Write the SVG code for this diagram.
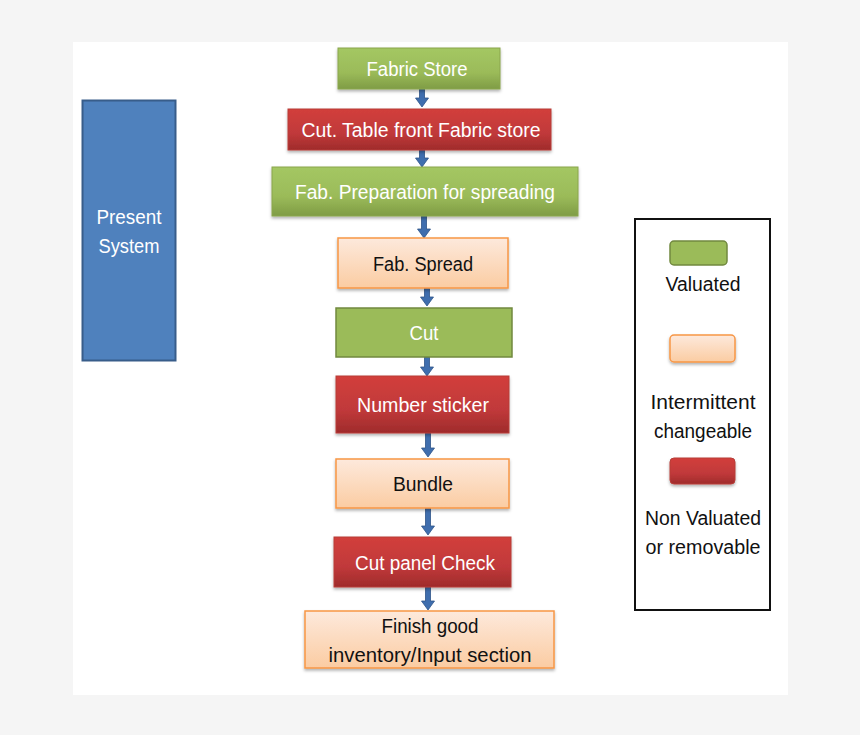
<svg xmlns="http://www.w3.org/2000/svg" width="860" height="735" viewBox="0 0 860 735">
<defs>
<linearGradient id="gG" x1="0" y1="0" x2="0" y2="1"><stop offset="0" stop-color="#a4c763"/><stop offset="0.6" stop-color="#9bbb59"/><stop offset="1" stop-color="#7f9c45"/></linearGradient>
<linearGradient id="gR" x1="0" y1="0" x2="0" y2="1"><stop offset="0" stop-color="#d23f3b"/><stop offset="0.6" stop-color="#c0393a"/><stop offset="1" stop-color="#9f2b2b"/></linearGradient>
<linearGradient id="gO" x1="0" y1="0" x2="0" y2="1"><stop offset="0" stop-color="#fde9dc"/><stop offset="1" stop-color="#fbcca2"/></linearGradient>
<filter id="sh" x="-10%" y="-10%" width="120%" height="140%"><feDropShadow dx="0" dy="2" stdDeviation="1.5" flood-color="#000" flood-opacity="0.3"/></filter>
</defs>
<style>
.t{font-family:"Liberation Sans","Open Sans",Arial,sans-serif;font-size:20px;text-anchor:middle}
.w{fill:#ffffff}
.k{fill:#111111}
.green{fill:url(#gG);stroke:#8aa64c;stroke-width:1}
.red{fill:url(#gR);stroke:#b73c38;stroke-width:1}
.orange{fill:url(#gO);stroke:#f79646;stroke-width:1.5}
.arr{fill:#3f6eae;stroke:#2f5488;stroke-width:0.8}
</style>
<rect x="0" y="0" width="860" height="735" fill="#f5f5f5"/>
<rect x="73" y="42" width="715" height="653" fill="#ffffff"/>

<g id="connectors">
<path class="arr" d="M419.5,89 h5 v9 h4 l-6.5,9 l-6.5,-9 h4 z"/>
<path class="arr" d="M419.5,150 h5 v8 h4 l-6.5,9 l-6.5,-9 h4 z"/>
<path class="arr" d="M421.5,216 h5 v13 h4 l-6.5,9 l-6.5,-9 h4 z"/>
<path class="arr" d="M424.5,288 h5 v9 h4 l-6.5,9 l-6.5,-9 h4 z"/>
<path class="arr" d="M424.5,357 h5 v10 h4 l-6.5,9 l-6.5,-9 h4 z"/>
<path class="arr" d="M425.5,433 h5 v15 h4 l-6.5,9 l-6.5,-9 h4 z"/>
<path class="arr" d="M425.5,508 h5 v18 h4 l-6.5,9 l-6.5,-9 h4 z"/>
<path class="arr" d="M425.5,587 h5 v14 h4 l-6.5,9 l-6.5,-9 h4 z"/>
</g>

<g id="fabric-store">
<rect class="green" x="338" y="48" width="162" height="41" filter="url(#sh)"/>
<text class="t w" x="417" y="76" textLength="101" lengthAdjust="spacingAndGlyphs">Fabric Store</text>
</g>
<g id="cut-table">
<rect class="red" x="288" y="109" width="263" height="41" filter="url(#sh)"/>
<text class="t w" x="421" y="137" textLength="239" lengthAdjust="spacingAndGlyphs">Cut. Table front Fabric store</text>
</g>
<g id="fab-preparation">
<rect class="green" x="272" y="167" width="306" height="49" filter="url(#sh)"/>
<text class="t w" x="425" y="199" textLength="260" lengthAdjust="spacingAndGlyphs">Fab. Preparation for spreading</text>
</g>
<g id="fab-spread">
<rect class="orange" x="338" y="238" width="170" height="50" filter="url(#sh)"/>
<text class="t k" x="423" y="271" textLength="100" lengthAdjust="spacingAndGlyphs">Fab. Spread</text>
</g>
<g id="cut">
<rect x="336" y="308" width="176" height="49" fill="#9bbb59" stroke="#71893f" stroke-width="1.5"/>
<text class="t w" x="424" y="340" textLength="29" lengthAdjust="spacingAndGlyphs">Cut</text>
</g>
<g id="number-sticker">
<rect class="red" x="336" y="376" width="173" height="57" filter="url(#sh)"/>
<text class="t w" x="423" y="412" textLength="132" lengthAdjust="spacingAndGlyphs">Number sticker</text>
</g>
<g id="bundle">
<rect class="orange" x="336" y="459" width="173" height="49" filter="url(#sh)"/>
<text class="t k" x="423" y="491" textLength="60" lengthAdjust="spacingAndGlyphs">Bundle</text>
</g>
<g id="cut-panel-check">
<rect class="red" x="334" y="537" width="177" height="50" filter="url(#sh)"/>
<text class="t w" x="425" y="570" textLength="140" lengthAdjust="spacingAndGlyphs">Cut panel Check</text>
</g>
<g id="finish-good">
<rect class="orange" x="305" y="611" width="249" height="57" filter="url(#sh)"/>
<text class="t k" x="430" y="633" textLength="97" lengthAdjust="spacingAndGlyphs">Finish good</text>
<text class="t k" x="430" y="662" textLength="203" lengthAdjust="spacingAndGlyphs">inventory/Input section</text>
</g>

<g id="present-system">
<rect x="82.5" y="100.5" width="93" height="260" fill="#4f81bd" stroke="#385d8a" stroke-width="2"/>
<text class="t w" x="129" y="224" textLength="65" lengthAdjust="spacingAndGlyphs">Present</text>
<text class="t w" x="129" y="253" textLength="61" lengthAdjust="spacingAndGlyphs">System</text>
</g>

<g id="legend">
<rect x="635" y="219" width="135" height="391" fill="#ffffff" stroke="#111111" stroke-width="2"/>
<rect x="670" y="241" width="57" height="24" rx="4" fill="#9bbb59" stroke="#71893f" stroke-width="1.5"/>
<text class="t k" x="703" y="291" textLength="75" lengthAdjust="spacingAndGlyphs">Valuated</text>
<rect class="orange" x="670" y="335" width="65" height="27" rx="4" filter="url(#sh)"/>
<text class="t k" x="703" y="409" textLength="105" lengthAdjust="spacingAndGlyphs">Intermittent</text>
<text class="t k" x="703" y="438" textLength="98" lengthAdjust="spacingAndGlyphs">changeable</text>
<rect x="670" y="458" width="65" height="26" rx="4" fill="url(#gR)" stroke="#b73c38" filter="url(#sh)"/>
<text class="t k" x="703" y="525" textLength="116" lengthAdjust="spacingAndGlyphs">Non Valuated</text>
<text class="t k" x="703" y="554" textLength="115" lengthAdjust="spacingAndGlyphs">or removable</text>
</g>
</svg>
